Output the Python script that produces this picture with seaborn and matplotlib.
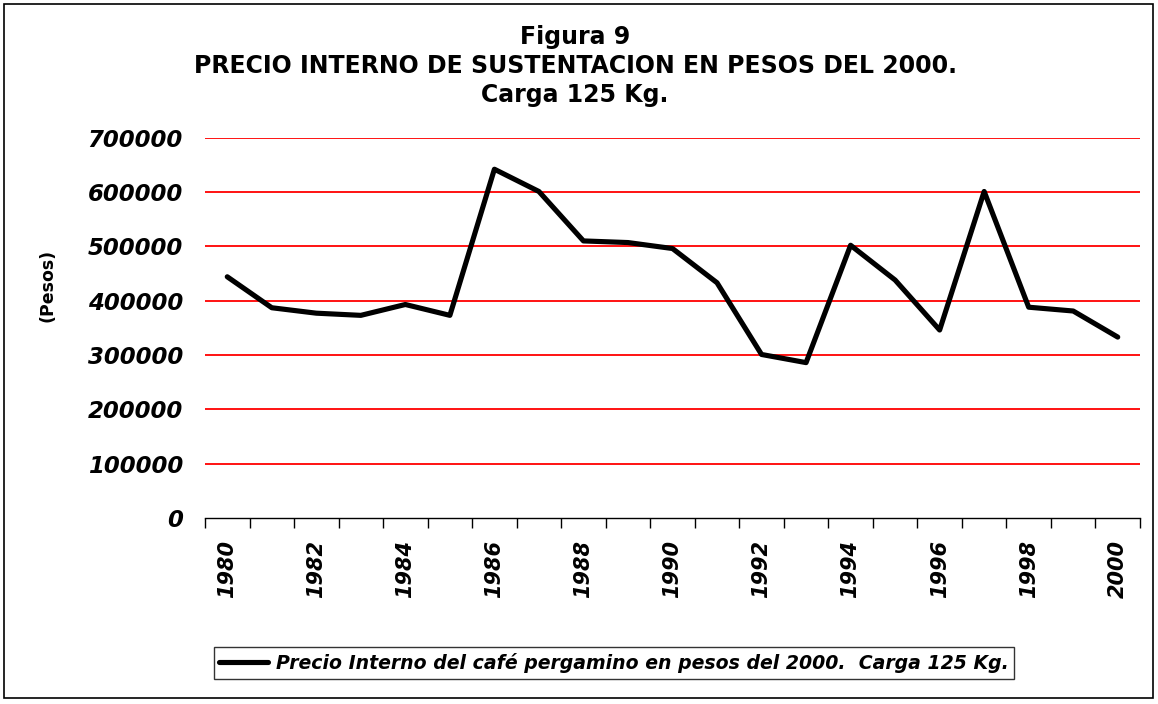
import matplotlib
matplotlib.use("Agg")
import matplotlib.pyplot as plt
from matplotlib.patches import Rectangle
from matplotlib.ticker import FixedLocator
import pandas as pd
import seaborn as sns

# data
years = list(range(1980, 2001))
precio = [444000, 387000, 377000, 373000, 393000, 373000, 642000, 601000,
          510000, 507000, 496000, 433000, 301000, 286000, 502000, 438000,
          346000, 601000, 388000, 381000, 333000]
ytick_values = [0, 100000, 200000, 300000, 400000, 500000, 600000, 700000]
xtick_years = list(range(1980, 2001, 2))

titulo = ["Figura 9",
          "PRECIO INTERNO DE SUSTENTACION EN PESOS DEL 2000.",
          "Carga 125 Kg."]
serie = "Precio Interno del café pergamino en pesos del 2000.  Carga 125 Kg."

df = pd.DataFrame({"anio": years, "precio": precio})

sns.set_style("white")
plt.rcParams["font.family"] = ["DejaVu Sans"]
plt.rcParams["text.color"] = "black"
plt.rcParams["xtick.color"] = "black"
plt.rcParams["ytick.color"] = "black"

W, H = 1158, 704
fig = plt.figure(figsize=(W / 100, H / 100), dpi=100)
ax = fig.add_axes([205 / W, 1 - 518 / H, (1140 - 205) / W, (518 - 137.7) / H])

# red horizontal gridlines
for v in ytick_values[1:]:
    ax.axhline(v, color="#ff0000", lw=1.3, zorder=1)

sns.lineplot(data=df, x="anio", y="precio", color="black", linewidth=3.7,
             label=serie, ax=ax, zorder=3)

ax.set_xlim(1979.5, 2000.5)
ax.set_ylim(0, 700000)
ax.set_yticks(ytick_values)
ax.set_yticklabels([str(v) for v in ytick_values], fontsize=16.5,
                   fontweight="bold", fontstyle="italic")
ax.tick_params(axis="y", length=0, pad=16)

ax.set_xticks(xtick_years)
ax.set_xticklabels([str(y) for y in xtick_years], rotation=90, fontsize=15,
                   fontweight="bold", fontstyle="italic")
ax.xaxis.set_minor_locator(FixedLocator([y - 0.5 for y in years] + [2000.5]))
ax.tick_params(axis="x", which="major", length=0, pad=16)
ax.tick_params(axis="x", which="minor", length=7, width=1, color="black",
               direction="out", bottom=True)

for s in ["left", "right", "top"]:
    ax.spines[s].set_visible(False)
ax.spines["bottom"].set_color("black")
ax.spines["bottom"].set_linewidth(1)
ax.set_xlabel("")
ax.set_ylabel("")

fig.text(48 / W, 1 - 285 / H, "(Pesos)", rotation=90, ha="center", va="center",
         fontsize=12.5, fontweight="bold", color="black")

for txt, yc in zip(titulo, [37, 66, 95]):
    fig.text(575 / W, 1 - yc / H, txt, ha="center", va="center",
             fontsize=17, fontweight="bold", color="black")

leg = ax.legend(loc="center", bbox_to_anchor=(614 / W, 1 - 663 / H),
                bbox_transform=fig.transFigure, frameon=True, fancybox=False,
                handlelength=2.6, borderpad=0.3, handletextpad=0.4,
                prop={"size": 13.6, "weight": "bold", "style": "italic"})
leg.get_frame().set_edgecolor("black")
leg.get_frame().set_linewidth(1)
for t in leg.get_texts():
    t.set_color("black")

fig.patches.append(Rectangle((4 / W, 1 - 698 / H), (1153 - 4) / W, (698 - 4) / H,
                             transform=fig.transFigure, fill=False,
                             edgecolor="black", linewidth=1.2))

fig.savefig("out.png", dpi=100)
